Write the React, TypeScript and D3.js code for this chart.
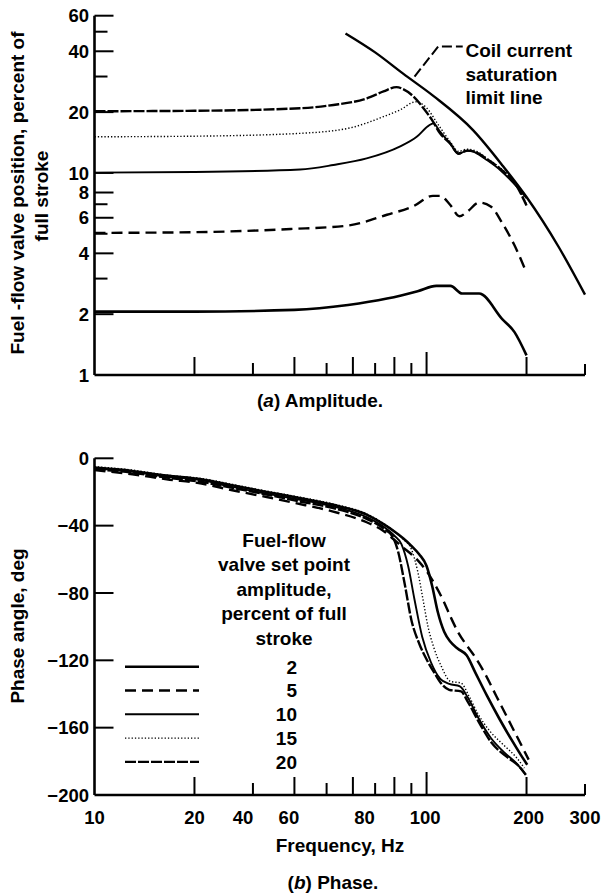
import React from "react";
import * as d3 from "d3";

// ---------- data ----------
const freqTicks = [20, 30, 40, 50, 60, 70, 80, 90, 100, 200, 300];
const freqLabels = ["10", "20", "40", "60", "80", "100", "200", "300"];
const freqLabelAt = [10, 20, 28, 38.5, 65, 99, 203, 300];

const ampTicks = [2, 3, 4, 5, 6, 7, 8, 10, 20, 30, 40, 50, 60];
const ampLabels = [1, 2, 4, 6, 8, 10, 20, 40, 60];
const phaseTicks = [0, -40, -80, -120, -160];
const phaseLabels = [0, -40, -80, -120, -160, -200];

const seriesNames = ["2", "5", "10", "15", "20"];

// amplitude (percent of full stroke) vs frequency
const amp2F = [10, 20, 40, 58, 76, 94, 107, 118, 128, 144, 169, 184, 200];
const amp2V = [2.06, 2.06, 2.1, 2.22, 2.39, 2.6, 2.76, 2.76, 2.53, 2.53, 1.89, 1.63, 1.25];
const amp5F = [10, 20, 39, 58, 76, 91, 104.5, 110, 117.7, 125.6, 132.9, 144, 156, 169, 183.5, 200];
const amp5V = [5.05, 5.09, 5.28, 5.49, 6.21, 6.83, 7.7, 7.7, 6.96, 6.1, 6.45, 7.14, 6.83, 5.65, 4.42, 3.21];
const amp10F = [10, 20, 41.6, 52.4, 66, 83, 93.4, 101.3, 104.8, 109.8, 117.7, 124.7, 129.2, 135.6, 141.6, 151.8, 166.5, 186.9, 200];
const amp10V = [10.03, 10.1, 10.4, 10.95, 11.8, 13.5, 15.1, 17.1, 17.6, 16.0, 14.0, 12.4, 12.7, 12.9, 12.5, 11.6, 10.35, 8.55, 7.5];
const amp15F = [10, 20, 41.6, 58.8, 74.2, 83.2, 92.7, 100, 108, 117.7, 124.7, 132.4, 141.6, 152, 166.5, 186.9, 200];
const amp15V = [15.1, 15.2, 15.7, 16.7, 19.0, 20.5, 22.5, 21.0, 17.5, 14.3, 12.8, 13.1, 12.8, 11.8, 10.6, 8.7, 7.0];
const amp20F = [10, 20, 41.6, 52.4, 66.1, 74.2, 81.2, 85, 91.3, 97.9, 103.8, 109.8, 117.7, 124.7, 132.4, 141.6, 152, 166.5, 186.9, 200];
const amp20V = [20.2, 20.3, 20.9, 21.7, 23.4, 25.3, 26.6, 26.0, 23.9, 20.9, 18.3, 15.7, 14.0, 12.5, 12.9, 12.6, 11.7, 10.5, 8.6, 6.9];
const satF = [57, 70, 85, 105, 138, 170, 200, 250, 300];
const satV = [49, 39.5, 31, 24, 16.3, 10.8, 7.6, 4.3, 2.5];

// phase (deg) vs frequency
const ph2F = [10, 13, 16.5, 21, 26, 33, 40, 52, 66, 74, 80, 85, 90, 95, 100, 104, 108, 113, 118, 124, 132, 140, 152, 166, 180, 192, 201];
const ph2V = [-5.5, -7.5, -10.3, -12.5, -16, -20, -23, -27.5, -33.5, -39, -43.5, -47.5, -52, -57, -64, -76, -91, -103, -109, -113, -117, -127, -141, -155, -167, -176, -182];
const ph5F = [10, 13, 16.5, 21, 26, 33, 40, 52, 66, 74, 80, 85, 90, 95, 100, 106, 112, 118, 125, 132, 140, 150, 162, 175, 188, 203];
const ph5V = [-7, -9.5, -12.5, -15, -19, -23, -26.5, -31.5, -38, -43, -48.5, -53, -57, -61.5, -67, -75, -84, -94, -104, -111, -118, -128, -141, -154, -166, -179];
const ph10F = [10, 13, 16.5, 21, 26, 33, 40, 52, 66, 74, 80, 84, 88, 92, 97, 103, 110, 117, 126, 133, 143, 156, 172, 186, 199];
const ph10V = [-6, -8, -11, -13, -17, -21, -24, -28.5, -35, -40.5, -46, -51, -64, -84, -106, -121, -131, -134, -135.5, -142, -154, -166, -175, -181, -188];
const ph15F = [10, 13, 16.5, 21, 26, 33, 40, 52, 66, 74, 80, 85, 90, 94, 98, 101, 105, 111, 118, 127, 134, 143, 155, 170, 187, 197];
const ph15V = [-5, -7, -10, -12, -15.5, -19.5, -22.5, -27, -33, -38.5, -43.5, -48, -54, -67, -86, -100, -112, -124, -132.5, -133.5, -141, -152, -162, -170, -178, -184];
const ph20F = [10, 13, 16.5, 21, 26, 33, 40, 52, 66, 74, 79, 82, 86, 90, 95, 101, 106, 111, 117, 127, 133, 144, 157, 175, 190, 199];
const ph20V = [-6.5, -8.5, -11.5, -14, -17.5, -21.5, -25, -29.5, -36, -41.5, -46.5, -55, -75, -96, -110, -121, -128, -134, -137.5, -138.5, -144.5, -157, -169, -177.5, -183, -188];

const legendTitle = ["Fuel-flow", "valve set point", "amplitude,", "percent of full", "stroke"];

// ---------- styles ----------
const FONT = "'Liberation Sans', Arial, Helvetica, sans-serif";
const styles: Record<string, { w: number; dash?: string }> = {
  "2": { w: 2.6 },
  "5": { w: 2.4, dash: "11 6" },
  "10": { w: 1.9 },
  "15": { w: 1.4, dash: "1.3 2" },
  "20": { w: 2.4, dash: "11 2" },
};

const zip = (f: number[], v: number[]) => f.map((x, i) => [x, v[i]] as [number, number]);

export default function App() {
  const xS = d3.scaleLog().domain([10, 300]).range([94.5, 585]);
  const yA = d3.scaleLog().domain([1, 60]).range([375, 15.7]);
  const yP = d3.scaleLinear().domain([-200, 0]).range([795, 458.3]);

  const lineA = d3.line<[number, number]>().x((d) => xS(d[0])).y((d) => yA(d[1])).curve(d3.curveMonotoneX);
  const lineP = d3.line<[number, number]>().x((d) => xS(d[0])).y((d) => yP(d[1])).curve(d3.curveMonotoneX);

  const ampSeries: [string, number[], number[]][] = [
    ["2", amp2F, amp2V],
    ["5", amp5F, amp5V],
    ["10", amp10F, amp10V],
    ["15", amp15F, amp15V],
    ["20", amp20F, amp20V],
  ];
  const phSeries: [string, number[], number[]][] = [
    ["2", ph2F, ph2V],
    ["5", ph5F, ph5V],
    ["10", ph10F, ph10V],
    ["15", ph15F, ph15V],
    ["20", ph20F, ph20V],
  ];

  const xTickLen = (f: number) => (f === 100 ? 23 : f === 300 ? 11 : [20, 40, 60, 80, 200].includes(f) ? 18 : 12);
  const ampTickLen = (v: number) => (ampLabels.includes(v) ? 19 : 13);

  const axisW = 2.6;
  const fmt = (v: number) => (v < 0 ? "\u2212" + Math.abs(v) : String(v));

  const xAxis = (y0: number, key: string) => (
    <g key={key}>
      <line x1={xS(10)} x2={xS(300)} y1={y0} y2={y0} stroke="#000" strokeWidth={axisW} />
      {freqTicks.map((f) => (
        <line key={f} x1={xS(f)} x2={xS(f)} y1={y0} y2={y0 - xTickLen(f)} stroke="#000" strokeWidth={2} />
      ))}
    </g>
  );

  // annotation anchor points (data space)
  const leadStart: [number, number] = [92, 30];
  const leadElbow: [number, number] = [108.5, 42.3];
  const leadEnd: [number, number] = [128.5, 42.3];
  const annX = xS(131);

  const legY0 = 666.7;
  const legDY = 23.8;

  return (
    <svg width={607} height={896} style={{ position: "absolute", left: 0, top: 0, background: "#fff" }} fontFamily={FONT} fontWeight="bold" fontSize={19}>
      <rect x={0} y={0} width={607} height={896} fill="#fff" />
      {/* ---------- Amplitude chart ---------- */}
      <line x1={xS(10)} x2={xS(10)} y1={yA(1)} y2={yA(60)} stroke="#000" strokeWidth={axisW} />
      {ampTicks.map((v) => (
        <line key={v} x1={xS(10)} x2={xS(10) + ampTickLen(v)} y1={yA(v)} y2={yA(v)} stroke="#000" strokeWidth={2} />
      ))}
      {ampLabels.map((v) => (
        <text key={v} x={89} y={yA(v)} dy="0.36em" textAnchor="end" fontSize={18.5}>
          {v}
        </text>
      ))}
      {xAxis(yA(1), "xa")}
      <path d={lineA(zip(satF, satV)) || ""} fill="none" stroke="#000" strokeWidth={2.4} />
      {ampSeries.map(([k, f, v]) => (
        <path key={k} d={lineA(zip(f, v)) || ""} fill="none" stroke="#000" strokeWidth={styles[k].w} strokeDasharray={styles[k].dash} />
      ))}
      <polyline
        points={[leadStart, leadElbow, leadEnd].map((p) => `${xS(p[0])},${yA(p[1])}`).join(" ")}
        fill="none"
        stroke="#000"
        strokeWidth={2}
        strokeDasharray="10 4"
      />
      <text x={annX} y={57}>Coil current</text>
      <text x={annX} y={80.5}>saturation</text>
      <text x={annX} y={104}>limit line</text>
      <text transform="translate(23.5,193) rotate(-90)" textAnchor="middle">Fuel -flow valve position, percent of</text>
      <text transform="translate(48,196) rotate(-90)" textAnchor="middle">full stroke</text>
      <text x={320} y={407} textAnchor="middle">
        (<tspan fontStyle="italic">a</tspan>) Amplitude.
      </text>

      {/* ---------- Phase chart ---------- */}
      <line x1={xS(10)} x2={xS(10)} y1={yP(-200)} y2={yP(0)} stroke="#000" strokeWidth={axisW} />
      {phaseTicks.map((v) => (
        <line key={v} x1={xS(10)} x2={xS(10) + 19} y1={yP(v)} y2={yP(v)} stroke="#000" strokeWidth={2} />
      ))}
      {phaseLabels.map((v) => (
        <text key={v} x={89} y={yP(v)} dy="0.36em" textAnchor="end" fontSize={18.5}>
          {fmt(v)}
        </text>
      ))}
      {xAxis(yP(-200), "xp")}
      {freqLabels.map((l, i) => (
        <text key={l} x={xS(freqLabelAt[i])} y={823.5} textAnchor="middle" fontSize={18.5}>
          {l}
        </text>
      ))}
      {phSeries.map(([k, f, v]) => (
        <path key={k} d={lineP(zip(f, v)) || ""} fill="none" stroke="#000" strokeWidth={styles[k].w} strokeDasharray={styles[k].dash} />
      ))}
      {legendTitle.map((t, i) => (
        <text key={t} x={284} y={546.5 + i * 24.5} textAnchor="middle">
          {t}
        </text>
      ))}
      {seriesNames.map((k, i) => (
        <g key={k}>
          <line x1={125} x2={199} y1={legY0 + i * legDY} y2={legY0 + i * legDY} stroke="#000" strokeWidth={styles[k].w} strokeDasharray={styles[k].dash} />
          <text x={297} y={legY0 + i * legDY} dy="0.36em" textAnchor="end">
            {k}
          </text>
        </g>
      ))}
      <text transform="translate(23.5,626) rotate(-90)" textAnchor="middle">Phase angle, deg</text>
      <text x={340} y={852} textAnchor="middle">Frequency, Hz</text>
      <text x={333} y={889} textAnchor="middle">
        (<tspan fontStyle="italic">b</tspan>) Phase.
      </text>
    </svg>
  );
}
